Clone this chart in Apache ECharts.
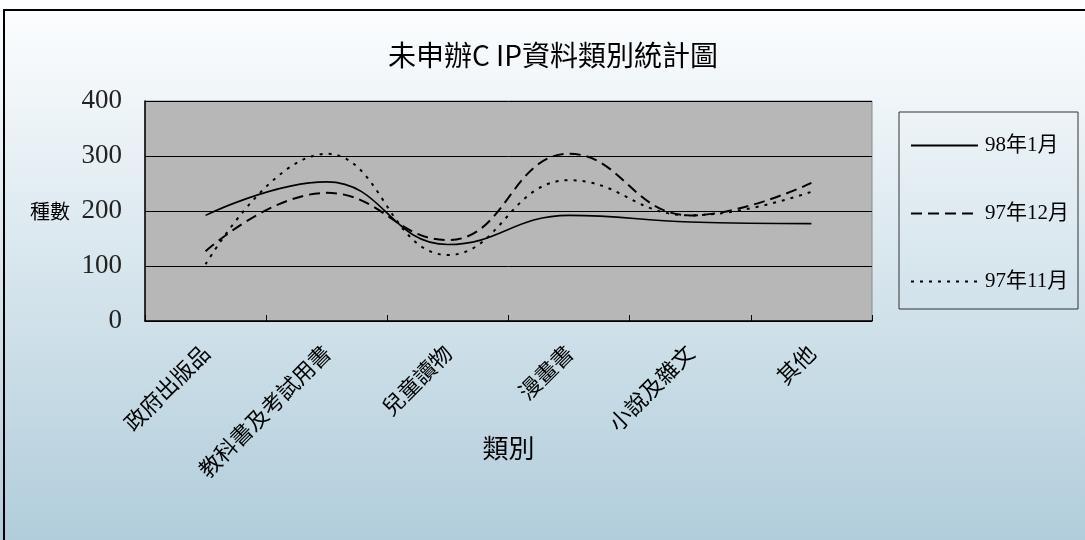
<!DOCTYPE html>
<html>
<head>
<meta charset="utf-8">
<script src="https://cdn.jsdelivr.net/npm/echarts@6/dist/echarts.min.js"></script>
<style>html,body{margin:0;padding:0;}#c{width:1085px;height:540px;}</style>
</head>
<body>
<div id="c"></div>
<script>
const categories = ['政府出版品', '教科書及考試用書', '兒童讀物', '漫畫書', '小說及雜文', '其他'];
const seriesNames = ['98年1月', '97年12月', '97年11月'];
const jan98 = [192, 253, 139, 192, 180, 177];
const dec97 = [127, 233, 147, 304, 192, 251];
const nov97 = [103, 304, 120, 256, 192, 235];
const yTicks = [0, 100, 200, 300, 400];

const serifFont = '"Liberation Serif", "Noto Sans CJK TC", serif';
const cjkFont = '"Noto Sans CJK TC", "Liberation Serif", sans-serif';

const chart = echarts.init(document.getElementById('c'));
chart.setOption({
  backgroundColor: new echarts.graphic.LinearGradient(0, 0, 0, 1, [
    { offset: 0, color: '#fdfeff' },
    { offset: 1, color: '#b1cddb' }
  ]),
  animation: false,
  title: {
    text: '未申辦C IP資料類別統計圖',
    left: 548, top: 36, textAlign: 'center',
    textStyle: { fontFamily: cjkFont, fontSize: 28, fontWeight: 'normal', color: '#000' }
  },
  graphic: [
    { type: 'rect', shape: { x: 4, y: 10, width: 1200, height: 700 },
      style: { fill: 'none', stroke: '#000', lineWidth: 2 }, z: 100 },
    { type: 'rect', shape: { x: 899, y: 112, width: 179, height: 197 },
      style: { fill: 'none', stroke: '#333', lineWidth: 1 }, z: 100 }
  ],
  legend: {
    data: seriesNames,
    orient: 'vertical',
    left: 910, top: 135,
    padding: 0,
    itemGap: 47,
    itemWidth: 67,
    itemHeight: 14,
    itemStyle: { opacity: 0 },
    textStyle: { fontFamily: serifFont, fontSize: 21, color: '#000', padding: [0, 0, 0, 2] }
  },
  grid: {
    left: 145, top: 101, width: 727, height: 220,
    show: true, backgroundColor: '#b7b7b7', borderColor: '#8a8a8a', borderWidth: 1
  },
  xAxis: {
    type: 'category',
    data: categories,
    boundaryGap: true,
    name: '類別',
    nameLocation: 'middle',
    nameGap: 114,
    nameMoveOverlap: false,
    nameTextStyle: { fontFamily: cjkFont, fontSize: 26, color: '#000', verticalAlign: 'top' },
    axisLine: { lineStyle: { color: '#000', width: 1.5 } },
    axisTick: { show: true, inside: true, length: 6, lineStyle: { color: '#000' } },
    axisLabel: { rotate: 45, margin: 28, fontFamily: cjkFont, fontSize: 22, color: '#000' }
  },
  yAxis: {
    type: 'value',
    min: 0, max: 400, interval: 100,
    name: '種數',
    nameLocation: 'middle',
    nameRotate: 0,
    nameGap: 75,
    nameMoveOverlap: false,
    nameTextStyle: { fontFamily: cjkFont, fontSize: 20, color: '#000' },
    axisLine: { show: true, lineStyle: { color: '#000', width: 1.5 } },
    axisTick: { show: false },
    splitLine: { lineStyle: { color: '#000', width: 1 } },
    axisLabel: {
      margin: 23, fontFamily: serifFont, fontSize: 27, color: '#222',
      formatter: v => yTicks.includes(v) ? String(v) : ''
    }
  },
  series: [
    { name: seriesNames[0], type: 'line', data: jan98, smooth: 0.45, symbol: 'none',
      lineStyle: { color: '#000', width: 1.6, type: 'solid' }, itemStyle: { color: '#000' } },
    { name: seriesNames[1], type: 'line', data: dec97, smooth: 0.45, symbol: 'none',
      lineStyle: { color: '#000', width: 2, type: [11, 6] }, itemStyle: { color: '#000' } },
    { name: seriesNames[2], type: 'line', data: nov97, smooth: 0.45, symbol: 'none',
      lineStyle: { color: '#000', width: 2, type: [3, 6] }, itemStyle: { color: '#000' } }
  ]
});
</script>
</body>
</html>
